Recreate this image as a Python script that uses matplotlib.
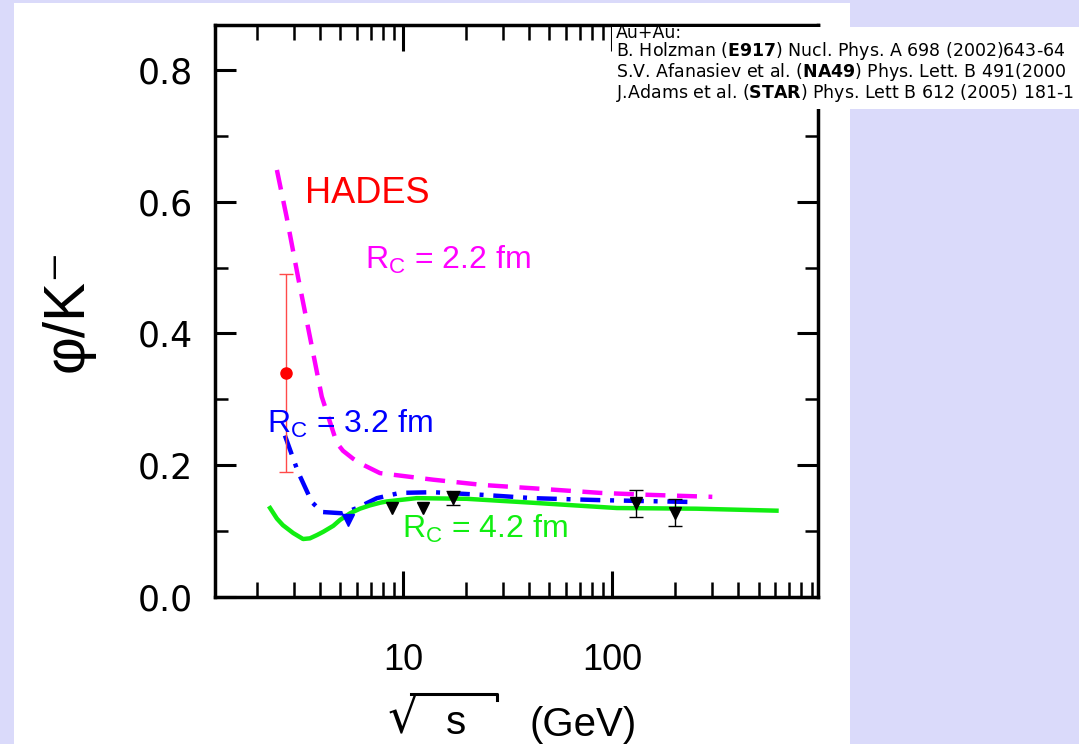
import matplotlib
matplotlib.use("Agg")
import matplotlib.pyplot as plt
from matplotlib.lines import Line2D
from matplotlib.patches import Rectangle
from matplotlib.ticker import FixedLocator, FixedFormatter, NullFormatter

plt.rcParams["mathtext.fontset"] = "custom"
plt.rcParams["mathtext.rm"] = "Liberation Sans"
plt.rcParams["mathtext.bf"] = "DejaVu Sans:bold"

W, H = 1079, 744
LAVENDER = "#dadafa"

# model curves (sqrt(s) in GeV, phi/K- ratio)
rc22_sqrts = [2.49, 2.77, 3.14, 3.58, 4.08, 4.81, 5.15, 5.75, 6.21, 7.74, 13.9, 24.0, 41.6, 87.0, 150.0, 300.0]
rc22_ratio = [0.648, 0.577, 0.486, 0.395, 0.304, 0.234, 0.222, 0.210, 0.203, 0.188, 0.178, 0.170, 0.165, 0.158, 0.155, 0.152]

rc32_sqrts = [2.72, 3.14, 3.66, 4.09, 5.15, 6.01, 7.48, 9.64, 13.9, 24.0, 41.6, 87.0, 252.0]
rc32_ratio = [0.245, 0.190, 0.144, 0.129, 0.127, 0.135, 0.150, 0.158, 0.159, 0.155, 0.150, 0.147, 0.144]

rc42_sqrts = [2.31, 2.49, 2.66, 2.98, 3.32, 3.58, 3.87, 4.15, 4.63, 4.99, 5.57, 6.21, 6.93, 7.74, 8.33,
              11.6, 20.1, 41.6, 105.0, 252.0, 608.0]
rc42_ratio = [0.135, 0.119, 0.109, 0.097, 0.088, 0.089, 0.094, 0.099, 0.108, 0.117, 0.127, 0.134, 0.139,
              0.143, 0.145, 0.150, 0.149, 0.143, 0.135, 0.134, 0.131]

# data points
hades_sqrts = [2.74]
hades_ratio = [0.340]
hades_err = [0.150]

e917_sqrts = [5.45]
e917_ratio = [0.117]

na49_sqrts = [8.8, 12.4, 17.3]
na49_ratio = [0.135, 0.135, 0.150]
na49_err = [0.0, 0.0, 0.011]

star_sqrts = [130.0, 200.0]
star_ratio = [0.142, 0.128]
star_err = [0.020, 0.020]

refs = [
    "Au+Au:",
    r"B. Holzman ($\mathbf{E917}$) Nucl. Phys. A 698 (2002)643-64",
    r"S.V. Afanasiev et al. ($\mathbf{NA49}$) Phys. Lett. B 491(2000",
    r"J.Adams et al. ($\mathbf{STAR}$) Phys. Lett B 612 (2005) 181-1",
]


def fx(px):
    return px / W


def fy(py):
    return 1 - py / H


fig = plt.figure(figsize=(W / 100, H / 100), dpi=100, facecolor=LAVENDER)
fig.add_artist(Rectangle((fx(14), 0), fx(850 - 14), fy(3), transform=fig.transFigure,
                         facecolor="white", edgecolor="none", zorder=-5))

ax = fig.add_axes([fx(215), fy(597), fx(818 - 215), (597 - 25) / H])
ax.set_xscale("log")
ax.set_xlim(1.26, 960)
ax.set_ylim(0, 0.868)

ax.plot(rc22_sqrts, rc22_ratio, color="#ff00ff", lw=3.2, linestyle=(0, (4.5, 2.6)))
ax.plot(rc32_sqrts, rc32_ratio, color="#0000ff", lw=3.2, linestyle=(0, (4.5, 2.2, 0.9, 2.2)))
ax.plot(rc42_sqrts, rc42_ratio, color="#11ee11", lw=3.2)

ax.errorbar(hades_sqrts, hades_ratio, yerr=hades_err, fmt="o", color="#ff0000", ms=8,
            ecolor="#ff4a4a", elinewidth=1.0, capsize=5, capthick=1.0)
ax.plot(e917_sqrts, e917_ratio, "v", color="#0000ff", ms=9)
ax.plot(na49_sqrts, na49_ratio, "v", color="black", ms=9)
with_err = [i for i, e in enumerate(na49_err) if e > 0]
ax.errorbar([na49_sqrts[i] for i in with_err], [na49_ratio[i] for i in with_err],
            yerr=[na49_err[i] for i in with_err], fmt="none", ecolor="black",
            elinewidth=1.0, capsize=5, capthick=1.0)
ax.errorbar(star_sqrts, star_ratio, yerr=star_err, fmt="v", color="black", ms=9,
            ecolor="black", elinewidth=1.0, capsize=5, capthick=1.0)

ax.text(3.39, 0.598, "HADES", color="#ff0000", fontsize=26, family="Liberation Sans")
ax.text(6.56, 0.499, r"R$_{\mathrm{C}}$ = 2.2 fm", color="#ff00ff", fontsize=23, family="Liberation Sans")
ax.text(2.23, 0.249, r"R$_{\mathrm{C}}$ = 3.2 fm", color="#0000ff", fontsize=23, family="Liberation Sans")
ax.text(9.83, 0.0895, r"R$_{\mathrm{C}}$ = 4.2 fm", color="#11ee11", fontsize=23, family="Liberation Sans")

# ticks
ax.xaxis.set_major_locator(FixedLocator([10, 100]))
ax.xaxis.set_major_formatter(FixedFormatter(["10", "100"]))
ax.xaxis.set_minor_locator(FixedLocator([k * 10 ** d for d in range(3) for k in range(2, 10)]))
ax.xaxis.set_minor_formatter(NullFormatter())
ax.yaxis.set_major_locator(FixedLocator([0.0, 0.2, 0.4, 0.6, 0.8]))
ax.yaxis.set_major_formatter(FixedFormatter(["0.0", "0.2", "0.4", "0.6", "0.8"]))
ax.yaxis.set_minor_locator(FixedLocator([0.1, 0.3, 0.5, 0.7]))

ax.tick_params(which="both", direction="in", top=True, right=True, color="black")
ax.tick_params(axis="x", which="major", length=19, width=2.2, pad=33, labelsize=26)
ax.tick_params(axis="x", which="minor", length=10.5, width=1.8)
ax.tick_params(axis="y", which="major", length=15, width=2.2, pad=16, labelsize=25)
ax.tick_params(axis="y", which="minor", length=9.5, width=1.8)
for lab in ax.get_xticklabels():
    lab.set_family("Liberation Sans")
for spine in ax.spines.values():
    spine.set_linewidth(2.5)

# x label: sqrt(s) (GeV)
fig.text(fx(388), fy(732), "√", fontsize=35, family="DejaVu Sans", ha="left", va="baseline")
fig.add_artist(Line2D([fx(411), fx(497), fx(497)], [fy(694), fy(694), fy(700)],
                      transform=fig.transFigure, color="black", lw=2.2))
fig.text(fx(456), fy(734), "s", fontsize=29, family="Liberation Sans", ha="center", va="baseline")
fig.text(fx(583), fy(725), "(GeV)", fontsize=29, family="Liberation Sans", ha="center", va="center")

fig.text(fx(68), fy(310), "φ/K⁻", fontsize=42, family=["Liberation Sans", "DejaVu Sans"],
         rotation=90, ha="center", va="center")

# reference box
fig.add_artist(Rectangle((fx(612), fy(109)), fx(W - 612), (109 - 27) / H, transform=fig.transFigure,
                         facecolor="white", edgecolor="none", zorder=5))
for line, base in zip(refs, [37.5, 56, 77, 97.5]):
    fig.text(fx(616), fy(base), line, fontsize=12.5, family="DejaVu Sans", va="baseline", zorder=6)

fig.savefig("out.png", dpi=100, facecolor=LAVENDER)
